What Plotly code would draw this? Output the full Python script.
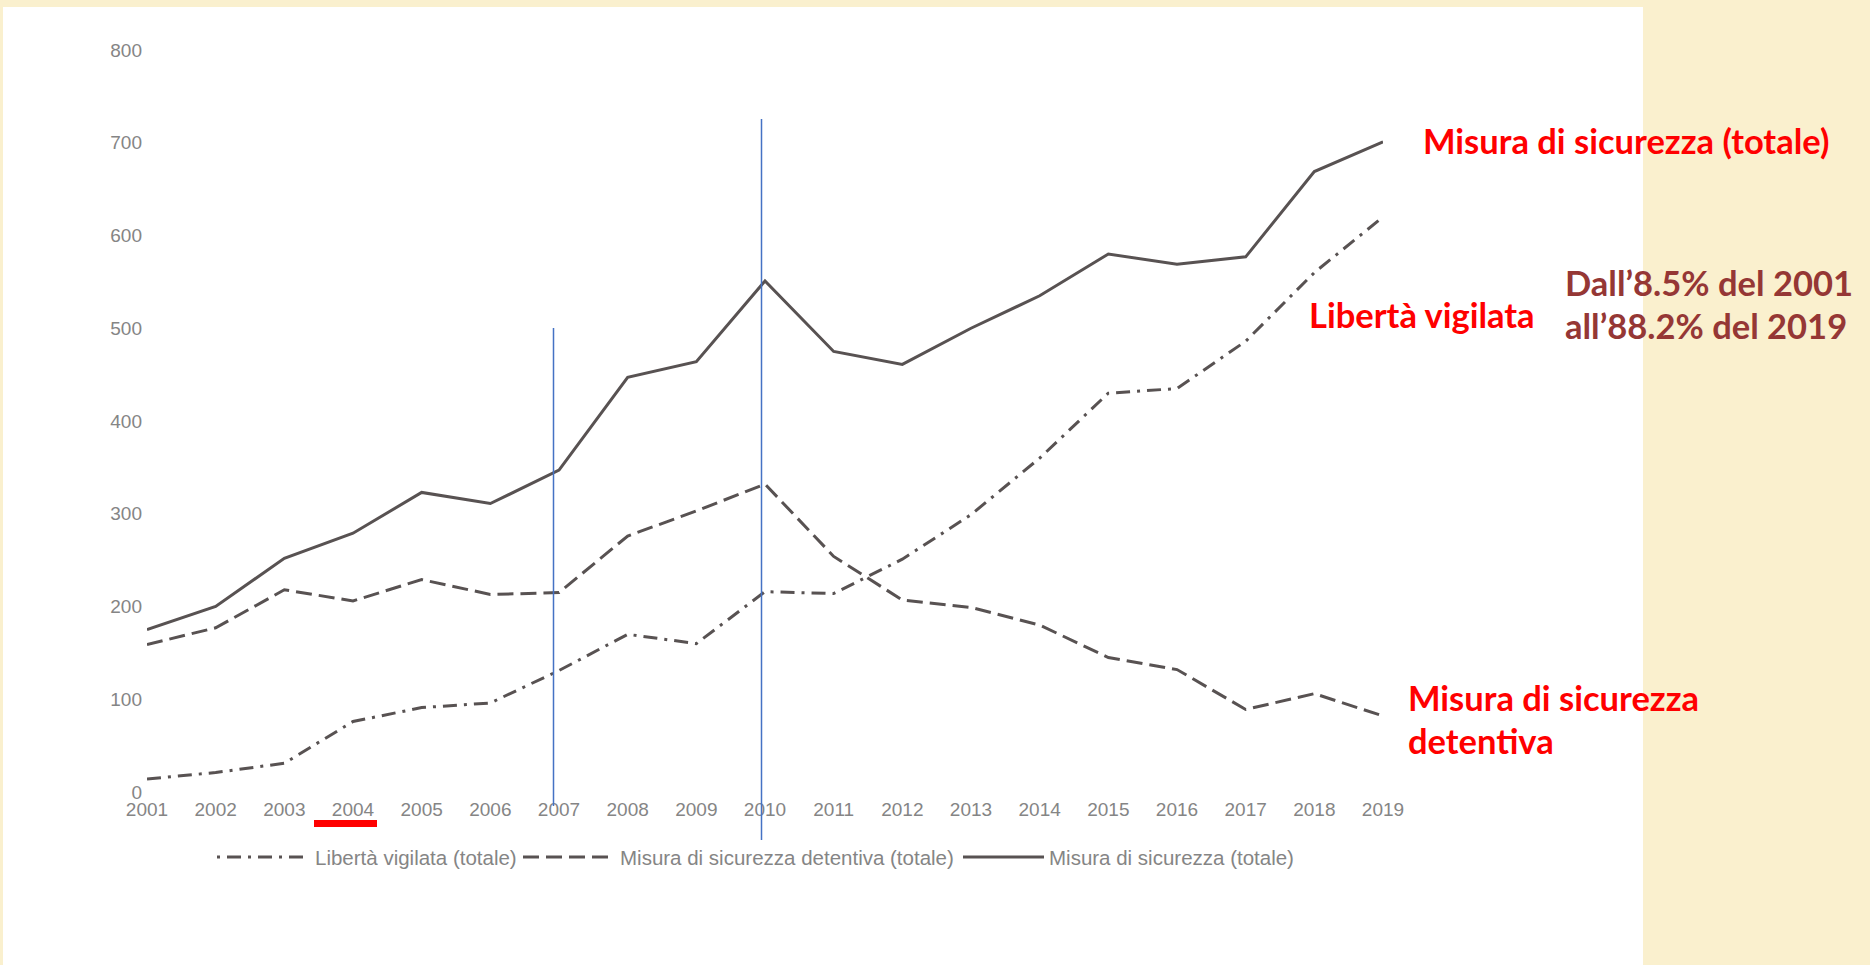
import plotly.graph_objects as go

# ---------------- data ----------------
years = list(range(2001, 2020))
year_labels = [str(y) for y in years]
liberta_vigilata = [14, 21, 31, 76, 91, 96, 131, 170, 160, 216, 214, 251, 299, 360, 430, 435, 486, 560, 620]
detentiva = [159, 177, 218, 206, 229, 213, 215, 276, 303, 332, 254, 207, 199, 180, 145, 132, 89, 106, 82]
totale = [175, 200, 252, 279, 323, 311, 347, 447, 464, 551, 475, 461, 500, 535, 580, 569, 577, 669, 701]
y_ticks = [0, 100, 200, 300, 400, 500, 600, 700, 800]
series_names = ["Libertà vigilata (totale)",
                "Misura di sicurezza detentiva (totale)",
                "Misura di sicurezza (totale)"]

# ---------------- geometry helpers (pixels -> paper) ----------------
W, H = 1870, 965
PL, PR, PT, PB = 147, 1383, 50, 792   # plot area in pixels


def fx(px):
    return (px - PL) / (PR - PL)


def fy(py):
    return (PB - py) / (PB - PT)


LINE_COL = "#585252"
TICK_COL = "#858585"
RED = "#FF0000"
DARKRED = "#953735"
BEIGE = "#FAF0CE"
BLUE = "#4472C4"
DASHDOT = "14px,7px,3px,7px"
DASH = "16px,7px"

fig = go.Figure()
fig.add_trace(go.Scatter(x=years, y=liberta_vigilata, mode="lines", name=series_names[0],
                         line=dict(color=LINE_COL, width=3, dash=DASHDOT), showlegend=False))
fig.add_trace(go.Scatter(x=years, y=detentiva, mode="lines", name=series_names[1],
                         line=dict(color=LINE_COL, width=3, dash=DASH), showlegend=False))
fig.add_trace(go.Scatter(x=years, y=totale, mode="lines", name=series_names[2],
                         line=dict(color=LINE_COL, width=3), showlegend=False))

shapes = [
    # white panel
    dict(type="rect", xref="paper", yref="paper", x0=fx(3), x1=fx(1643), y0=fy(965), y1=fy(7),
         fillcolor="white", line=dict(width=0), layer="below"),
    # blue vertical markers
    dict(type="line", xref="paper", yref="paper", x0=fx(553.5), x1=fx(553.5), y0=fy(806), y1=fy(328),
         line=dict(color=BLUE, width=1.5)),
    dict(type="line", xref="paper", yref="paper", x0=fx(761.5), x1=fx(761.5), y0=fy(840), y1=fy(119),
         line=dict(color=BLUE, width=1.5)),
    # red underline under 2004
    dict(type="rect", xref="paper", yref="paper", x0=fx(314), x1=fx(377), y0=fy(827), y1=fy(820),
         fillcolor=RED, line=dict(width=0)),
]

# ---------------- legend (drawn as shapes + text) ----------------
LEG_Y = 857
legend_items = [
    (217, 306, "3px,7px,14px,7px", 313, series_names[0]),
    (523, 613, DASH, 618, series_names[1]),
    (963, 1044, "solid", 1047, series_names[2]),
]
annotations = []
for x0, x1, dash, tx, label in legend_items:
    shapes.append(dict(type="line", xref="paper", yref="paper", x0=fx(x0), x1=fx(x1), y0=fy(LEG_Y), y1=fy(LEG_Y),
                       line=dict(color=LINE_COL, width=3, dash=dash)))
    annotations.append(dict(text=label, x=fx(tx), y=fy(LEG_Y), xanchor="left", yanchor="middle",
                            font=dict(family="'Liberation Sans Narrow', 'Liberation Sans', sans-serif",
                                      size=20.5, color=TICK_COL)))

ann_font = "Lato, 'Open Sans', sans-serif"
FS = 34.5
annotations += [
    dict(text="<b>Misura di sicurezza (totale)</b>", x=fx(1421), y=fy(140), xanchor="left", yanchor="middle",
         font=dict(family=ann_font, size=FS, color=RED)),
    dict(text="<b>Libertà vigilata</b>", x=fx(1537), y=fy(314), xanchor="right", yanchor="middle",
         font=dict(family=ann_font, size=FS, color=RED)),
    dict(text="<b>Dall’8.5% del 2001</b>", x=fx(1563), y=fy(282), xanchor="left", yanchor="middle",
         font=dict(family=ann_font, size=FS, color=DARKRED)),
    dict(text="<b>all’88.2% del 2019</b>", x=fx(1563), y=fy(325), xanchor="left", yanchor="middle",
         font=dict(family=ann_font, size=FS, color=DARKRED)),
    dict(text="<b>Misura di sicurezza</b>", x=fx(1406), y=fy(697), xanchor="left", yanchor="middle",
         font=dict(family=ann_font, size=FS, color=RED)),
    dict(text="<b>detentiva</b>", x=fx(1406), y=fy(740), xanchor="left", yanchor="middle",
         font=dict(family=ann_font, size=FS, color=RED)),
]
for a in annotations:
    a.update(xref="paper", yref="paper", showarrow=False)

fig.update_layout(
    width=W, height=H, autosize=False,
    margin=dict(l=PL, r=W - PR, t=PT, b=H - PB, pad=0),
    paper_bgcolor=BEIGE, plot_bgcolor="white",
    shapes=shapes, annotations=annotations,
    showlegend=False,
    xaxis=dict(range=[2001, 2019], tickvals=years, ticktext=year_labels, showgrid=False, zeroline=False,
               showline=False, ticks="", ticklabelstandoff=4,
               tickfont=dict(family="'Liberation Sans', sans-serif", size=19, color=TICK_COL)),
    yaxis=dict(range=[0, 800], tickvals=y_ticks, showgrid=False, zeroline=False, showline=False, ticks="",
               ticklabelstandoff=4,
               tickfont=dict(family="'Liberation Sans', sans-serif", size=19, color=TICK_COL)),
)

fig.write_html("out.html")
